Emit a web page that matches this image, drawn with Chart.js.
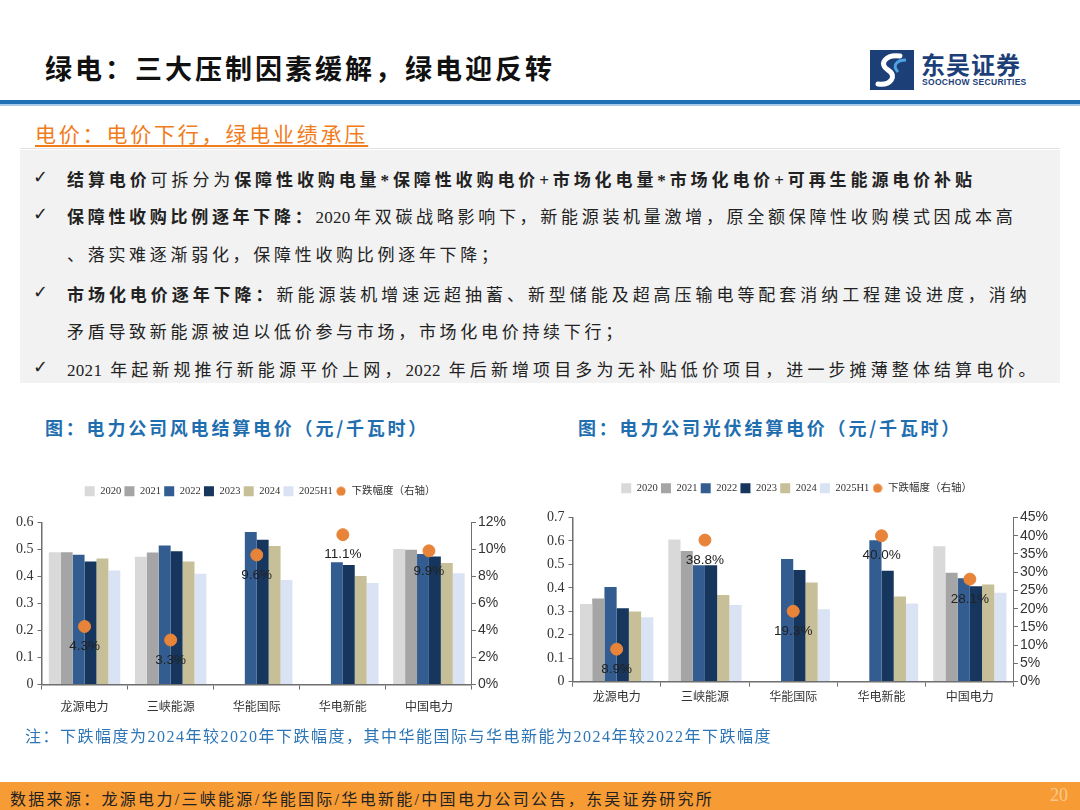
<!DOCTYPE html>
<html lang="zh-CN">
<head>
  <meta charset="UTF-8" />
  <title>绿电：三大压制因素缓解，绿电迎反转</title>
  <script src="https://cdn.jsdelivr.net/npm/chart.js"></script>
  <style>
    body {
      margin: 0;
      width: 1080px;
      height: 810px;
      position: relative;
      overflow: hidden;
      background: #fff;
      font-family: "Liberation Serif", "Noto Sans CJK SC", serif;
    }
    .abs { position: absolute; white-space: nowrap; }
    .title {
      left: 45px; top: 48px;
      font: 700 27px "Noto Sans CJK SC", sans-serif;
      letter-spacing: 3px;
      color: #111;
    }
    .logo-icon {
      left: 870px; top: 50px; width: 44px; height: 40px;
      background: #1d3f78;
    }
    .logo-cn {
      left: 921px; top: 46px;
      font: 700 24px "Noto Sans CJK SC", sans-serif;
      color: #1d3f78; letter-spacing: 1px;
    }
    .logo-en {
      left: 922px; top: 77px;
      font: 700 8.5px "Liberation Sans", sans-serif;
      color: #1d3f78; letter-spacing: 0.3px;
    }
    .rule-blue { left: 0; top: 100px; width: 1080px; height: 4px; background: #1f6fb6; }
    .rule-light { left: 0; top: 104px; width: 1080px; height: 2px; background: #a9c9e8; }
    .sub {
      left: 35px; top: 118px;
      font: 400 21px "Noto Sans CJK SC", sans-serif;
      letter-spacing: 2.8px;
      color: #f07c1c;
      text-decoration: underline;
      text-underline-offset: 3px;
    }
    .rule-gray { left: 20px; top: 148px; width: 1040px; height: 1px; background: #e3e3e3; }
    .box { left: 20px; top: 150px; width: 1040px; height: 233px; background: #f2f2f2; }
    .line {
      left: 67px;
      font-size: 17px;
      letter-spacing: 3.7px;
      color: #222;
    }
    .line b { font-weight: 700; }
    .line .n { letter-spacing: 0.3px; margin-right: 3.4px; }
    .chk { left: 33px; font: 18px "DejaVu Sans", sans-serif; color: #222; }
    .ctitle {
      top: 414px;
      font: 700 18px "Noto Sans CJK SC", sans-serif;
      letter-spacing: 2.8px;
      color: #1f6fb0;
    }
    .note {
      left: 25px; top: 723px;
      font-size: 16px;
      color: #2e75b6;
      letter-spacing: 1.5px;
    }
    .footer { left: 0; top: 782px; width: 1080px; height: 28px; background: #f79b35; }
    .foot-txt {
      left: 10px; top: 786px;
      font-size: 16px; color: #222; letter-spacing: 2.3px;
    }
    .page { left: 1050px; top: 785px; font-size: 18px; color: #f9c98e; }
    .chart-box { position: absolute; }
  </style>
</head>
<body>
  <div class="abs title">绿电：三大压制因素缓解，绿电迎反转</div>
  <div class="abs logo-icon">
    <svg width="44" height="40" viewBox="0 0 44 40">
      <path d="M30 6 C16 4 8 14 18 20 C28 26 20 36 8 34" stroke="#fff" stroke-width="5" fill="none" stroke-linecap="round"/>
      <path d="M36 10 C26 10 22 16 28 22" stroke="#4fa3e0" stroke-width="3" fill="none"/>
    </svg>
  </div>
  <div class="abs logo-cn">东吴证券</div>
  <div class="abs logo-en">SOOCHOW SECURITIES</div>
  <div class="abs rule-blue"></div>
  <div class="abs rule-light"></div>

  <div class="abs sub">电价：电价下行，绿电业绩承压</div>
  <div class="abs rule-gray"></div>
  <div class="abs box"></div>

  <div class="abs chk" style="top:166px">✓</div>
  <div class="abs line" style="top:166px; letter-spacing:3.9px"><b>结算电价</b>可拆分为<b>保障性收购电量*保障性收购电价+市场化电量*市场化电价+可再生能源电价补贴</b></div>
  <div class="abs chk" style="top:203px">✓</div>
  <div class="abs line" style="top:203px"><b>保障性收购比例逐年下降：</b><span class="n">2020</span>年双碳战略影响下，新能源装机量激增，原全额保障性收购模式因成本高</div>
  <div class="abs line" style="top:241px">、落实难逐渐弱化，保障性收购比例逐年下降；</div>
  <div class="abs chk" style="top:281px">✓</div>
  <div class="abs line" style="top:281px; letter-spacing:3.95px"><b>市场化电价逐年下降：</b>新能源装机增速远超抽蓄、新型储能及超高压输电等配套消纳工程建设进度，消纳</div>
  <div class="abs line" style="top:318px">矛盾导致新能源被迫以低价参与市场，市场化电价持续下行；</div>
  <div class="abs chk" style="top:356px">✓</div>
  <div class="abs line" style="top:356px; letter-spacing:4.1px"><span class="n">2021 </span>年起新规推行新能源平价上网，<span class="n">2022 </span>年后新增项目多为无补贴低价项目，进一步摊薄整体结算电价。</div>

  <div class="abs ctitle" style="left:45px">图：电力公司风电结算电价（元/千瓦时）</div>
  <div class="abs ctitle" style="left:578px">图：电力公司光伏结算电价（元/千瓦时）</div>

  <div class="chart-box" style="left:0px; top:478px; width:520px; height:252px;">
    <canvas id="windChart"></canvas>
  </div>
  <div class="chart-box" style="left:540px; top:472px; width:530px; height:247px;">
    <canvas id="solarChart"></canvas>
  </div>

  <div class="abs note">注：下跌幅度为2024年较2020年下跌幅度，其中华能国际与华电新能为2024年较2022年下跌幅度</div>

  <div class="abs footer"></div>
  <div class="abs foot-txt">数据来源：龙源电力/三峡能源/华能国际/华电新能/中国电力公司公告，东吴证券研究所</div>
  <div class="abs page">20</div>

  <script>
    // categories and series
    const companies = ['龙源电力', '三峡能源', '华能国际', '华电新能', '中国电力'];
    const yearLabels = ['2020', '2021', '2022', '2023', '2024', '2025H1'];
    const dropLabel = '下跌幅度（右轴）';

    // wind settlement price, yuan/kWh
    const wind2020 = [0.490, 0.473, null, null, 0.502];
    const wind2021 = [0.490, 0.489, null, null, 0.499];
    const wind2022 = [0.481, 0.515, 0.565, 0.453, 0.483];
    const wind2023 = [0.456, 0.494, 0.536, 0.443, 0.474];
    const wind2024 = [0.467, 0.456, 0.513, 0.402, 0.450];
    const wind2025H1 = [0.422, 0.410, 0.387, 0.376, 0.412];
    const windDrop = [4.3, 3.3, 9.6, 11.1, 9.9];

    // solar settlement price, yuan/kWh
    const solar2020 = [0.331, 0.606, null, null, 0.577];
    const solar2021 = [0.354, 0.557, null, null, 0.464];
    const solar2022 = [0.404, 0.496, 0.523, 0.603, 0.441];
    const solar2023 = [0.313, 0.496, 0.476, 0.473, 0.407];
    const solar2024 = [0.299, 0.369, 0.423, 0.363, 0.414];
    const solar2025H1 = [0.274, 0.327, 0.309, 0.333, 0.379];
    const solarDrop = [8.9, 38.8, 19.3, 40.0, 28.1];

    const barColors = ['#d9d9d9', '#a5a5a5', '#335d91', '#17365d', '#c7bf98', '#dae3f3'];
    const dotColor = '#e8843a';

    // small orange dot for the legend
    const dotIcon = document.createElement('canvas');
    dotIcon.width = 10; dotIcon.height = 10;
    const dctx = dotIcon.getContext('2d');
    dctx.fillStyle = dotColor;
    dctx.beginPath(); dctx.arc(5, 5, 4.6, 0, Math.PI * 2); dctx.fill();

    const dropLabels = {
      id: 'dropLabels',
      afterDatasetsDraw(chart) {
        const ds = chart.data.datasets.length - 1;
        const meta = chart.getDatasetMeta(ds);
        const c = chart.ctx;
        c.save();
        c.font = '13.5px "Liberation Sans", Arial, sans-serif';
        c.fillStyle = '#222';
        c.textAlign = 'center';
        c.textBaseline = 'middle';
        meta.data.forEach((pt, i) => {
          c.fillText(chart.data.datasets[ds].data[i].toFixed(1) + '%', pt.x, pt.y + 20);
        });
        c.restore();
      }
    };

    // extra room between legend and plot
    function legendGap(gap) {
      return {
        id: 'legendGap',
        beforeInit(chart) {
          const fit = chart.legend.fit;
          chart.legend.fit = function () {
            fit.bind(chart.legend)();
            this.height += gap;
          };
        }
      };
    }

    function makeChart(id, series, drops, yMax, y1Max, y1Step, pad, gap, xPad) {
      const datasets = series.map((vals, i) => ({
        type: 'bar',
        label: yearLabels[i],
        data: vals,
        backgroundColor: barColors[i],
        categoryPercentage: 0.83,
        barPercentage: 1.0,
        yAxisID: 'y',
        order: 2
      }));
      datasets.push({
        type: 'line',
        label: dropLabel,
        data: drops,
        showLine: false,
        pointRadius: 6,
        pointHoverRadius: 6,
        pointBackgroundColor: dotColor,
        pointBorderColor: dotColor,
        yAxisID: 'y1',
        order: 1
      });

      const axisColor = '#6f6f6f';
      return new Chart(document.getElementById(id), {
        data: { labels: companies, datasets: datasets },
        options: {
          responsive: true,
          maintainAspectRatio: false,
          animation: false,
          layout: { padding: pad },
          plugins: {
            tooltip: { enabled: false },
            legend: {
              position: 'top',
              labels: {
                usePointStyle: true,
                boxHeight: 10,
                padding: 3,
                color: '#333',
                font: { family: '"Liberation Serif", "Noto Sans CJK SC", serif', size: 10.5 },
                sort: (a, b) => a.datasetIndex - b.datasetIndex,
                generateLabels(chart) {
                  const items = Chart.defaults.plugins.legend.labels.generateLabels(chart);
                  items.forEach((it) => {
                    it.pointStyle = it.datasetIndex < yearLabels.length ? 'rect' : dotIcon;
                    it.lineWidth = 0;
                  });
                  return items;
                }
              }
            }
          },
          scales: {
            x: {
              grid: { offset: true, drawOnChartArea: false, drawTicks: true, tickLength: 5, color: axisColor },
              border: { color: axisColor, width: 1.5 },
              ticks: { color: '#333', padding: xPad, font: { family: '"Noto Sans CJK SC", sans-serif', size: 12 } }
            },
            y: {
              min: 0, max: yMax,
              grid: { drawOnChartArea: false, tickLength: 4, color: axisColor },
              border: { color: axisColor, width: 1.5 },
              ticks: {
                stepSize: 0.1, padding: 4, color: '#333',
                font: { family: '"Liberation Serif", serif', size: 14, lineHeight: 1 },
                callback: v => (v === 0 ? '0' : v.toFixed(1))
              }
            },
            y1: {
              position: 'right',
              min: 0, max: y1Max,
              grid: { drawOnChartArea: false, tickLength: 4, color: axisColor },
              border: { color: axisColor, width: 1 },
              ticks: {
                stepSize: y1Step, padding: 2, color: '#333', autoSkip: false,
                font: { family: '"Liberation Sans", Arial, sans-serif', size: 14, lineHeight: 0.9 },
                callback: v => v + '%'
              }
            }
          }
        },
        plugins: [dropLabels, legendGap(gap)]
      });
    }

    makeChart('windChart',
      [wind2020, wind2021, wind2022, wind2023, wind2024, wind2025H1],
      windDrop, 0.6, 12, 2, { left: 12, right: 12, top: 5, bottom: 6 }, 16, 10);
    makeChart('solarChart',
      [solar2020, solar2021, solar2022, solar2023, solar2024, solar2025H1],
      solarDrop, 0.7, 45, 5, { left: 3, right: 20, top: 8, bottom: 12 }, 14, 3);
  </script>
</body>
</html>
